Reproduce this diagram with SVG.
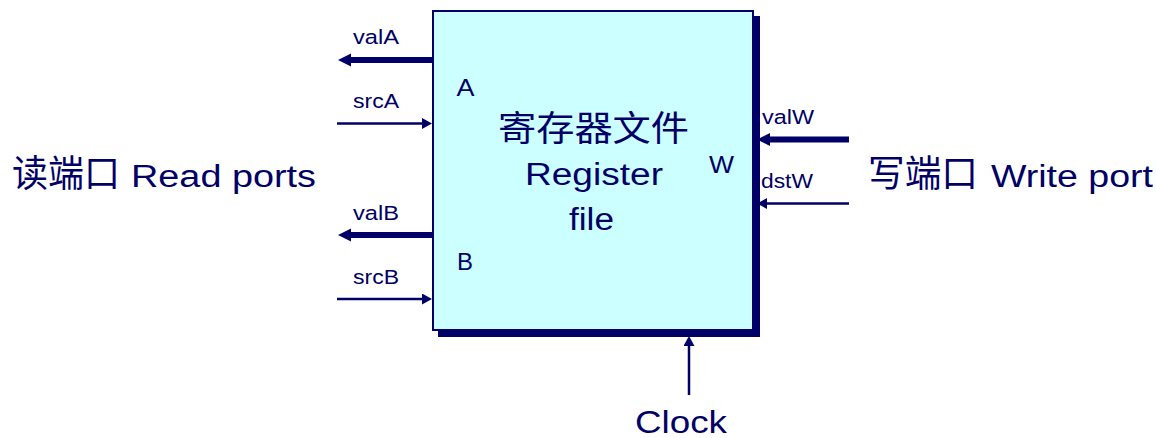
<svg xmlns="http://www.w3.org/2000/svg" width="1156" height="438" viewBox="0 0 1156 438">
<style>
  text { font-family: "Liberation Sans", "Noto Sans CJK SC", sans-serif; fill: #000066; }
  .cjk { font-family: "Noto Sans CJK SC", "Liberation Sans", sans-serif; }
  .sm { font-size: 20.5px; }
  .port { font-size: 23.5px; }
  .big { font-size: 31px; }
  .thick { stroke: #000066; stroke-width: 6; fill: none; }
  .thin { stroke: #000066; stroke-width: 2.5; fill: none; }
</style>
<defs>
  <marker id="headThick" markerUnits="userSpaceOnUse" markerWidth="14" markerHeight="14" refX="0" refY="6.5" orient="auto">
    <path d="M0,0 L13,6.5 L0,13 z" fill="#000066"/>
  </marker>
  <marker id="headThin" markerUnits="userSpaceOnUse" markerWidth="12" markerHeight="12" refX="0" refY="5.5" orient="auto">
    <path d="M0,0 L10,5.5 L0,11 z" fill="#000066"/>
  </marker>
</defs>
<rect width="1156" height="438" fill="#ffffff"/>

<g id="register-file">
  <rect x="438" y="16" width="322" height="321" fill="#000066"/>
  <rect x="433" y="11" width="320" height="319" fill="#CCFFFF" stroke="#000066" stroke-width="2"/>
  <text class="cjk" x="498" y="140.5" font-size="35" textLength="191" lengthAdjust="spacingAndGlyphs">寄存器文件</text>
  <text class="big" x="525" y="185" textLength="138" lengthAdjust="spacingAndGlyphs">Register</text>
  <text class="big" x="569" y="230" textLength="45" lengthAdjust="spacingAndGlyphs">file</text>
  <text class="port" x="456.5" y="96" textLength="18" lengthAdjust="spacingAndGlyphs">A</text>
  <text class="port" x="457" y="270" textLength="16" lengthAdjust="spacingAndGlyphs">B</text>
  <text class="port" x="709" y="173" textLength="25" lengthAdjust="spacingAndGlyphs">W</text>
</g>

<g id="read-ports">
  <text x="12" y="186.5" font-size="31"><tspan class="cjk" font-size="37" textLength="108" lengthAdjust="spacingAndGlyphs">读端口</tspan> <tspan x="131" textLength="185" lengthAdjust="spacingAndGlyphs">Read ports</tspan></text>
</g>

<g id="write-port">
  <text x="868" y="186.5" font-size="31"><tspan class="cjk" font-size="37" textLength="110" lengthAdjust="spacingAndGlyphs">写端口</tspan> <tspan x="991" textLength="162" lengthAdjust="spacingAndGlyphs">Write port</tspan></text>
</g>

<g id="clock">
  <text class="big" x="635" y="432.5" textLength="92" lengthAdjust="spacingAndGlyphs">Clock</text>
</g>

<g id="connectors">
  <path class="thick" d="M432,60 L351,60" marker-end="url(#headThick)"/>
  <path class="thin" d="M337,123.5 L422,123.5" marker-end="url(#headThin)"/>
  <path class="thick" d="M432,235 L351,235" marker-end="url(#headThick)"/>
  <path class="thin" d="M337,299 L422,299" marker-end="url(#headThin)"/>
  <path class="thick" d="M849,139.5 L770,139.5" marker-end="url(#headThick)"/>
  <path class="thin" d="M849,203.5 L767,203.5" marker-end="url(#headThin)"/>
  <path class="thin" d="M689,395 L689,346" marker-end="url(#headThin)"/>
</g>

<g id="labels">
  <text class="sm" x="353" y="43.5" textLength="46" lengthAdjust="spacingAndGlyphs">valA</text>
  <text class="sm" x="353" y="108" textLength="46" lengthAdjust="spacingAndGlyphs">srcA</text>
  <text class="sm" x="353" y="219.5" textLength="46" lengthAdjust="spacingAndGlyphs">valB</text>
  <text class="sm" x="353" y="283.5" textLength="46" lengthAdjust="spacingAndGlyphs">srcB</text>
  <text class="sm" x="762" y="124" textLength="52" lengthAdjust="spacingAndGlyphs">valW</text>
  <text class="sm" x="761" y="188" textLength="52" lengthAdjust="spacingAndGlyphs">dstW</text>
</g>
</svg>
